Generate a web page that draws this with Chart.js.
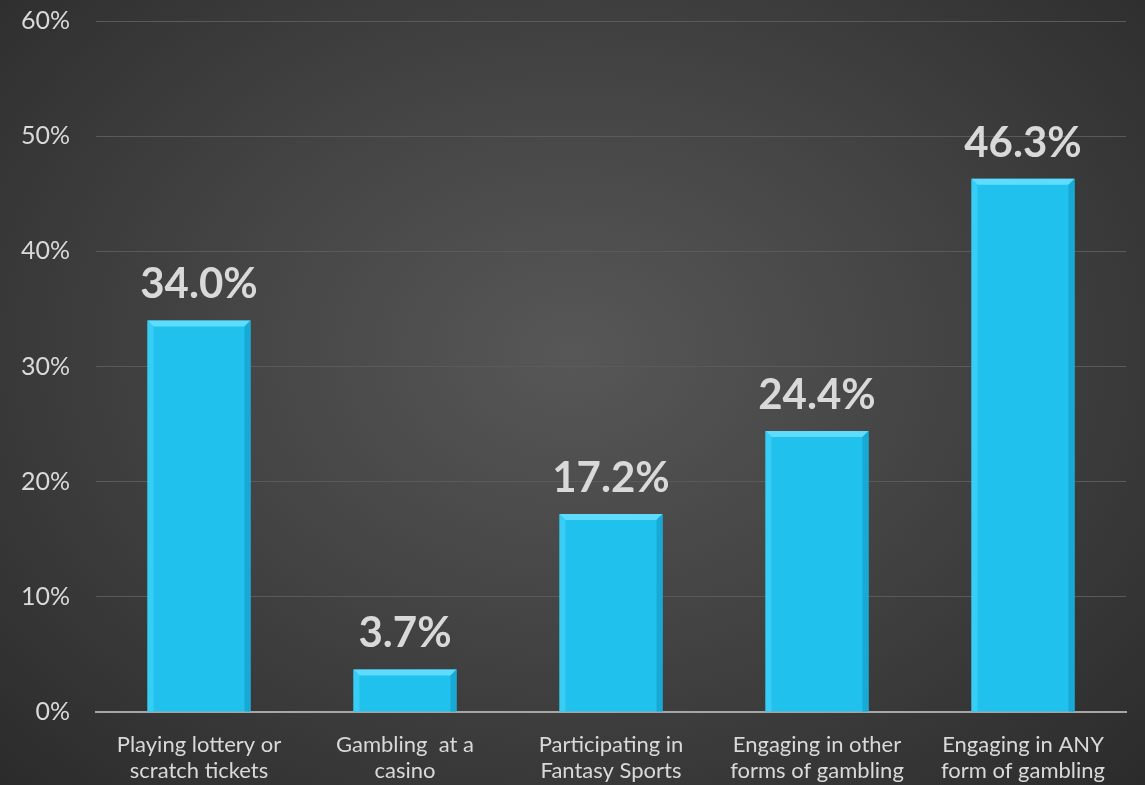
<!DOCTYPE html>
<html>
<head>
<meta charset="utf-8">
<script src="https://cdn.jsdelivr.net/npm/chart.js@4/dist/chart.umd.min.js"></script>
<style>
  html, body { margin: 0; padding: 0; }
  body {
    width: 1145px; height: 785px; overflow: hidden;
    background: radial-gradient(ellipse at 50% 45%, #575757 0%, #444444 45%, #2b2b2b 100%);
  }
  #wrap { width: 1145px; height: 785px; }
</style>
</head>
<body>
<div id="wrap"><canvas id="myBarChart" width="1145" height="785"></canvas></div>
<script>
const categories = [
    ["Playing lottery or", "scratch tickets"],
    ["Gambling  at a", "casino"],
    ["Participating in", "Fantasy Sports"],
    ["Engaging in other", "forms of gambling"],
    ["Engaging in ANY", "form of gambling"]
];
const values = [34.0, 3.7, 17.2, 24.4, 46.3];
const yTicks = [0, 10, 20, 30, 40, 50, 60];

const fontName = "Lato, 'Open Sans', sans-serif";

// popisky nad sloupci + jemny "bevel"
const barExtras = {
    id: 'barExtras',
    afterDatasetsDraw(chart) {
        const ctx = chart.ctx;
        const meta = chart.getDatasetMeta(0);
        meta.data.forEach((bar, i) => {
            const left = bar.x - bar.width / 2;
            const right = bar.x + bar.width / 2;
            const top = bar.y;
            const bottom = bar.base;
            const b = 6;
            ctx.save();
            // horni svetla hrana
            ctx.fillStyle = '#5fdcfb';
            ctx.beginPath();
            ctx.moveTo(left, top); ctx.lineTo(right, top);
            ctx.lineTo(right - b, top + b); ctx.lineTo(left + b, top + b);
            ctx.closePath(); ctx.fill();
            // leva hrana
            ctx.fillStyle = '#38cdf4';
            ctx.beginPath();
            ctx.moveTo(left, top); ctx.lineTo(left + b, top + b);
            ctx.lineTo(left + b, bottom); ctx.lineTo(left, bottom);
            ctx.closePath(); ctx.fill();
            // prava tmavsi hrana
            ctx.fillStyle = '#18a9d4';
            ctx.beginPath();
            ctx.moveTo(right, top); ctx.lineTo(right - b, top + b);
            ctx.lineTo(right - b, bottom); ctx.lineTo(right, bottom);
            ctx.closePath(); ctx.fill();

            ctx.fillStyle = '#d9d9d9';
            ctx.font = "bold 42px " + fontName;
            ctx.textAlign = 'center';
            ctx.textBaseline = 'alphabetic';
            ctx.fillText(values[i].toFixed(1) + '%', bar.x, top - 22);
            ctx.restore();
        });
    }
};

const ctx = document.getElementById('myBarChart').getContext('2d');
const myBarChart = new Chart(ctx, {
    type: 'bar',
    data: {
        labels: categories,
        datasets: [{
            data: values,
            backgroundColor: '#21c1ee',
            borderWidth: 0,
            categoryPercentage: 1,
            barPercentage: 0.5
        }]
    },
    options: {
        responsive: false,
        animation: false,
        layout: { padding: { top: 21, right: 19, left: 0, bottom: 0 } },
        plugins: {
            legend: { display: false },
            tooltip: { enabled: false }
        },
        scales: {
            x: {
                grid: { display: false, drawTicks: false },
                border: { color: '#a6a6a6', width: 2 },
                ticks: {
                    color: '#d9d9d9',
                    font: { family: fontName, size: 22, lineHeight: 1.22 },
                    padding: 19,
                    maxRotation: 0
                },
                afterFit(scale) { scale.height = 73; }
            },
            y: {
                min: 0,
                max: 60,
                afterBuildTicks(scale) {
                    scale.ticks = yTicks.map(v => ({ value: v }));
                },
                grid: { color: '#5a5a5a', lineWidth: 1, drawTicks: false },
                border: { display: false },
                ticks: {
                    color: '#d9d9d9',
                    font: { family: fontName, size: 25 },
                    padding: 26,
                    callback: v => v + '%'
                },
                afterFit(scale) {
                    scale.width = 96;
                    scale.paddingTop = 0;
                    scale.paddingBottom = 0;
                }
            }
        }
    },
    plugins: [barExtras]
});
</script>
</body>
</html>
